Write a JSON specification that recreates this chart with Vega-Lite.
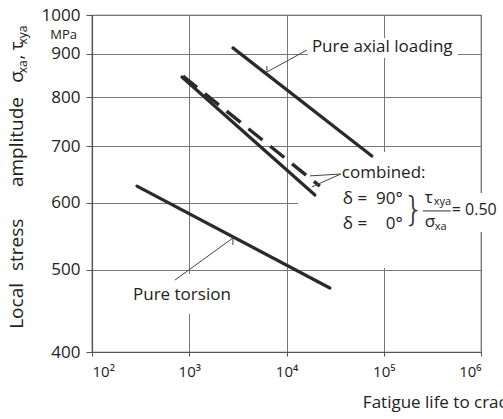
{
  "$schema": "https://vega.github.io/schema/vega-lite/v6.json",
  "width": 389,
  "height": 337,
  "autosize": {"type": "none"},
  "padding": {"left": 92, "top": 15, "right": 22, "bottom": 67},
  "background": "white",
  "config": {
    "font": "Open Sans",
    "view": {"stroke": "#555", "strokeWidth": 1.2},
    "axis": {"domainColor": "#555", "gridColor": "#777", "gridWidth": 1, "tickColor": "#555", "labelColor": "#222", "labelFont": "Open Sans", "domainWidth": 1.2}
  },
  "datasets": {
    "curves": [
      {"series": "Pure axial loading", "N": 2812, "S": 914.5},
      {"series": "Pure axial loading", "N": 75500, "S": 681.7},
      {"series": "combined delta 0", "N": 841, "S": 845},
      {"series": "combined delta 0", "N": 19600, "S": 613},
      {"series": "Pure torsion", "N": 290, "S": 628},
      {"series": "Pure torsion", "N": 27900, "S": 476}
    ],
    "dashed": [
      {"series": "combined delta 90", "N": 862, "S": 847},
      {"series": "combined delta 90", "N": 22000, "S": 628}
    ],
    "leaders": [
      {"id": "a", "k": 1, "N": 16200, "S": 909},
      {"id": "a", "k": 2, "N": 6290, "S": 856.5},
      {"id": "a", "k": 3, "N": 6290, "S": 870.7},
      {"id": "t", "k": 1, "N": 713, "S": 486.4},
      {"id": "t", "k": 2, "N": 2812, "S": 545.4},
      {"id": "t", "k": 3, "N": 2812, "S": 535},
      {"id": "c1", "k": 1, "N": 36200, "S": 649},
      {"id": "c1", "k": 2, "N": 17400, "S": 645.7},
      {"id": "c2", "k": 1, "N": 36200, "S": 649},
      {"id": "c2", "k": 2, "N": 18240, "S": 626.7}
    ],
    "masks": [
      {"N": 16600, "N2": 577600, "S": 939.4, "S2": 889.7},
      {"N": 13100, "N2": 767400, "S": 689.1, "S2": 502.9},
      {"N": 478000, "N2": 1386000, "S": 616.5, "S2": 554.3},
      {"N": 245.8, "N2": 2949, "S": 494.5, "S2": 443.6}
    ],
    "labels": [
      {"label": "Pure axial loading", "N": 18240, "S": 916.7},
      {"label": "Pure torsion", "N": 263.9, "S": 467.1},
      {"label": "combined:", "N": 37100, "S": 651.1},
      {"label": "δ =", "N": 37990, "S": 606.4},
      {"label": "δ =", "N": 37990, "S": 566.6},
      {"label": "τ", "N": 264500, "S": 608.1},
      {"label": "σ", "N": 264500, "S": 569.7},
      {"label": "Fatigue life to crack initiation", "N": 61000, "S": 348.3}
    ],
    "eq": [
      {"label": "= 0.50", "N": 501100, "S": 588.6}
    ],
    "rlabels": [
      {"label": "90°", "N": 157200, "S": 606.4},
      {"label": "0°", "N": 157200, "S": 566.6}
    ],
    "subs": [
      {"label": "xya", "N": 327300, "S": 601.5},
      {"label": "xa", "N": 335100, "S": 562.0}
    ],
    "unit": [{"label": "MPa", "N": 70.1, "S": 947.1}],
    "brace": [{"label": "}", "N": 203900, "S": 587}],
    "bar": [{"N": 252300, "N2": 489500, "S": 587}],
    "ytitle": [
      {"label": "Local", "N": 16.95, "S": 453.4},
      {"label": "stress", "N": 16.95, "S": 535.2},
      {"label": "amplitude", "N": 16.95, "S": 708.0},
      {"label": "σ", "N": 16.95, "S": 845.2},
      {"label": ",", "N": 16.95, "S": 892.1},
      {"label": "τ", "N": 16.95, "S": 919.1}
    ],
    "ysubs": [
      {"label": "xa", "N": 19.3, "S": 868.4},
      {"label": "xya", "N": 19.3, "S": 947.1}
    ]
  },
  "encoding": {
    "x": {
      "field": "N", "type": "quantitative",
      "scale": {"type": "log", "domain": [100, 1000000], "nice": false},
      "axis": {"title": null, "values": [100, 1000, 10000, 100000, 1000000], "grid": true, "tickSize": 4, "labelFontSize": 15, "labelPadding": 8,
        "labelExpr": "'10' + ['⁰','¹','²','³','⁴','⁵','⁶'][round(log(datum.value)/LN10)]"}
    },
    "y": {
      "field": "S", "type": "quantitative",
      "scale": {"type": "log", "domain": [400, 1000], "nice": false},
      "axis": {"title": null, "values": [400, 500, 600, 700, 800, 900, 1000], "grid": true, "tickSize": 6, "labelFontSize": 17, "labelPadding": 6, "format": "d"}
    }
  },
  "layer": [
    {"data": {"name": "masks"}, "mark": {"type": "rect", "color": "white"}, "encoding": {"x2": {"field": "N2"}, "y2": {"field": "S2"}}},
    {"data": {"name": "curves"}, "mark": {"type": "line", "color": "#2a2a2a", "strokeWidth": 3.2, "strokeCap": "round"}, "encoding": {"detail": {"field": "series"}}},
    {"data": {"name": "dashed"}, "mark": {"type": "line", "color": "#2a2a2a", "strokeWidth": 3.4, "strokeDash": [18, 10]}, "encoding": {"detail": {"field": "series"}}},
    {"data": {"name": "leaders"}, "mark": {"type": "line", "color": "#444", "strokeWidth": 1}, "encoding": {"detail": {"field": "id"}, "order": {"field": "k"}}},
    {"data": {"name": "bar"}, "mark": {"type": "rule", "color": "#333", "strokeWidth": 1}, "encoding": {"x2": {"field": "N2"}}},
    {"data": {"name": "labels"}, "mark": {"type": "text", "align": "left", "baseline": "middle", "fontSize": 17, "color": "#222"}, "encoding": {"text": {"field": "label"}}},
    {"data": {"name": "eq"}, "mark": {"type": "text", "align": "left", "baseline": "middle", "fontSize": 16, "color": "#222"}, "encoding": {"text": {"field": "label"}}},
    {"data": {"name": "rlabels"}, "mark": {"type": "text", "align": "right", "baseline": "middle", "fontSize": 17, "color": "#222"}, "encoding": {"text": {"field": "label"}}},
    {"data": {"name": "subs"}, "mark": {"type": "text", "align": "left", "baseline": "middle", "fontSize": 11, "color": "#222"}, "encoding": {"text": {"field": "label"}}},
    {"data": {"name": "unit"}, "mark": {"type": "text", "align": "right", "baseline": "middle", "fontSize": 13, "color": "#222"}, "encoding": {"text": {"field": "label"}}},
    {"data": {"name": "brace"}, "mark": {"type": "text", "align": "center", "baseline": "middle", "fontSize": 34, "font": "DejaVu Sans", "fontWeight": 200, "color": "#333"}, "encoding": {"text": {"field": "label"}}},
    {"data": {"name": "ytitle"}, "mark": {"type": "text", "align": "center", "baseline": "middle", "angle": 270, "fontSize": 19, "color": "#222"}, "encoding": {"text": {"field": "label"}}},
    {"data": {"name": "ysubs"}, "mark": {"type": "text", "align": "center", "baseline": "middle", "angle": 270, "fontSize": 12, "color": "#222"}, "encoding": {"text": {"field": "label"}}}
  ]
}
